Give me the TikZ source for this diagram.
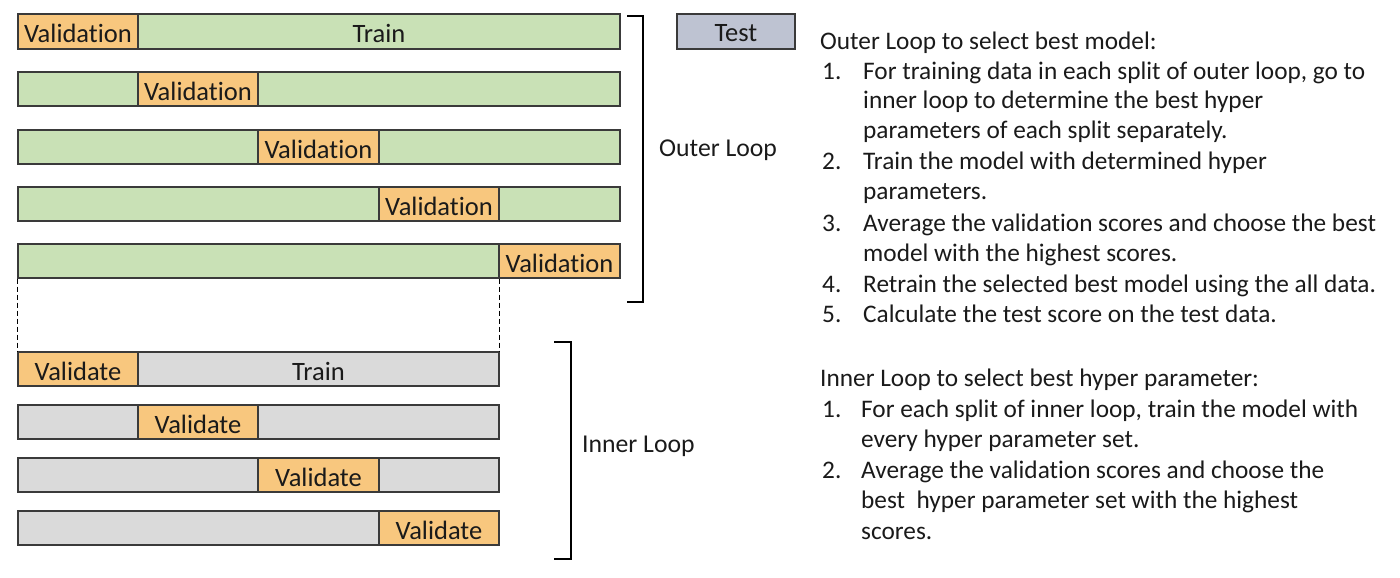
\documentclass[tikz,border=0pt]{standalone}
\usepackage{fontspec}
\setmainfont{Carlito}[Ligatures={NoCommon}]
\definecolor{trgreen}{HTML}{C9E1B6}
\definecolor{valorange}{HTML}{F8C77E}
\definecolor{trgray}{HTML}{DADADA}
\definecolor{testblue}{HTML}{BEC3D2}
\definecolor{edgegray}{HTML}{3A3A3A}
\definecolor{txt}{HTML}{1A1A1A}
\tikzset{
  segbox/.style={draw=edgegray, line width=1.1pt, inner sep=0pt, text=txt,
    font=\fontsize{26.5}{30}\selectfont},
  brack/.style={draw=black, line width=2pt},
  looplabel/.style={anchor=base west, inner sep=0pt, text=txt, font=\fontsize{25.7}{30}\selectfont},
  desc/.style={anchor=base west, inner sep=0pt, text=txt, font=\fontsize{25.3}{30}\selectfont},
  dashside/.style={draw=black, line width=1.8pt, dash pattern=on 5pt off 3pt},
}
\newcommand{\mkseg}[7]{%
  \node[segbox, fill=#6, minimum width={(#4)-(#2)}, minimum height={(#5)-(#3)}]
    (#1) at ({((#2)+(#4))/2},{((#3)+(#5))/2}) {\raisebox{-2pt}[\height][\depth]{#7}};}
\begin{document}
\begin{tikzpicture}[x=1pt,y=-1pt]
\useasboundingbox (0,0) rectangle (1400,578);
% outer loop rows
\mkseg{r1v}{18}{14}{138}{49}{valorange}{Validation}
\mkseg{r1t}{138}{14}{620}{49}{trgreen}{Train}
\mkseg{r2a}{18}{72}{138}{106}{trgreen}{}
\mkseg{r2v}{138}{72}{258}{106}{valorange}{Validation}
\mkseg{r2b}{258}{72}{620}{106}{trgreen}{}
\mkseg{r3a}{18}{130}{258}{164}{trgreen}{}
\mkseg{r3v}{258}{130}{379}{164}{valorange}{Validation}
\mkseg{r3b}{379}{130}{620}{164}{trgreen}{}
\mkseg{r4a}{18}{187}{379}{221}{trgreen}{}
\mkseg{r4v}{379}{187}{499}{221}{valorange}{Validation}
\mkseg{r4b}{499}{187}{620}{221}{trgreen}{}
\mkseg{r5a}{18}{244}{499}{278}{trgreen}{}
\mkseg{r5v}{499}{244}{620}{278}{valorange}{Validation}
% inner loop rows
\mkseg{i1v}{18}{352}{138}{386}{valorange}{Validate}
\mkseg{i1t}{138}{352}{499}{386}{trgray}{Train}
\mkseg{i2a}{18}{405}{138}{439}{trgray}{}
\mkseg{i2v}{138}{405}{258}{439}{valorange}{Validate}
\mkseg{i2b}{258}{405}{499}{439}{trgray}{}
\mkseg{i3a}{18}{458}{258}{492}{trgray}{}
\mkseg{i3v}{258}{458}{379}{492}{valorange}{Validate}
\mkseg{i3b}{379}{458}{499}{492}{trgray}{}
\mkseg{i4a}{18}{511}{379}{545}{trgray}{}
\mkseg{i4v}{379}{511}{499}{545}{valorange}{Validate}
% test
\mkseg{test}{677}{14}{795}{49}{testblue}{Test}
% dashed expansion
\draw[dashside] (r5a.south west) -- (i1v.north west);
\draw[dashside] (r5a.south east) -- (i1t.north east);
% brackets
\coordinate (ob1) at (627,16); \coordinate (ob2) at (643,16);
\coordinate (ob3) at (643,302); \coordinate (ob4) at (627,302);
\draw[brack] (ob1) -- (ob2) -- (ob3) -- (ob4);
\coordinate (ib1) at (554,342); \coordinate (ib2) at (571,342);
\coordinate (ib3) at (571,559); \coordinate (ib4) at (554,559);
\draw[brack] (ib1) -- (ib2) -- (ib3) -- (ib4);
\node[looplabel] (outerlbl) at (659,156) {Outer Loop};
\node[looplabel] (innerlbl) at (582,452) {Inner Loop};
% description text
\node[desc] (o0) at (820,49) {Outer Loop to select best model:};
\node[desc] (o1n) at (822,79) {1.};
\node[desc] (o1a) at (863,79) {For training data in each split of outer loop, go to};
\node[desc] (o1b) at (863,108) {inner loop to determine the best hyper};
\node[desc] (o1c) at (863,138) {parameters of each split separately.};
\node[desc] (o2n) at (822,169) {2.};
\node[desc] (o2a) at (863,169) {Train the model with determined hyper};
\node[desc] (o2b) at (863,199) {parameters.};
\node[desc] (o3n) at (822,231) {3.};
\node[desc] (o3a) at (863,231) {Average the validation scores and choose the best};
\node[desc] (o3b) at (863,261) {model with the highest scores.};
\node[desc] (o4n) at (822,292) {4.};
\node[desc] (o4a) at (863,292) {Retrain the selected best model using the all data.};
\node[desc] (o5n) at (822,322) {5.};
\node[desc] (o5a) at (863,322) {Calculate the test score on the test data.};
\node[desc] (n0) at (820,386) {Inner Loop to select best hyper parameter:};
\node[desc] (n1n) at (822,417) {1.};
\node[desc] (n1a) at (861,417) {For each split of inner loop, train the model with};
\node[desc] (n1b) at (861,447) {every hyper parameter set.};
\node[desc] (n2n) at (822,478) {2.};
\node[desc] (n2a) at (861,478) {Average the validation scores and choose the};
\node[desc] (n2b) at (861,508) {best\ \ hyper parameter set with the highest};
\node[desc] (n2c) at (861,539) {scores.};
\end{tikzpicture}
\end{document}
